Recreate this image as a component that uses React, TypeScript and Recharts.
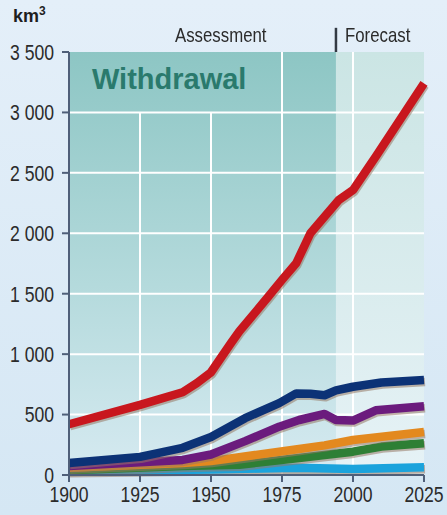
import React from "react";
import {
  LineChart,
  Line,
  XAxis,
  YAxis,
  ReferenceArea,
  ReferenceLine,
} from "recharts";

// ticks
const YEAR_TICKS = [1900, 1925, 1950, 1975, 2000, 2025];
const VALUE_TICKS = [0, 500, 1000, 1500, 2000, 2500, 3000, 3500];
const GRID_VALUES = [500, 1000, 1500, 2000, 2500, 3000];
const SHORT_GRID_YEARS = [1925, 1950]; // stop under the title box
const FULL_GRID_YEARS = [1975, 2000];
const FORECAST_START = 1994;

// withdrawal, km3
const red = [
  { year: 1900, km3: 420 },
  { year: 1925, km3: 580 },
  { year: 1940, km3: 685 },
  { year: 1945, km3: 760 },
  { year: 1950, km3: 850 },
  { year: 1957, km3: 1090 },
  { year: 1960, km3: 1190 },
  { year: 1970, km3: 1470 },
  { year: 1975, km3: 1614 },
  { year: 1980, km3: 1752 },
  { year: 1985, km3: 2000 },
  { year: 1988, km3: 2083 },
  { year: 1995, km3: 2276 },
  { year: 2000, km3: 2358 },
  { year: 2008, km3: 2635 },
  { year: 2025, km3: 3240 },
];

const navy = [
  { year: 1900, km3: 100 },
  { year: 1925, km3: 150 },
  { year: 1940, km3: 225 },
  { year: 1950, km3: 315 },
  { year: 1962, km3: 470 },
  { year: 1974, km3: 595 },
  { year: 1980, km3: 675 },
  { year: 1985, km3: 672 },
  { year: 1990, km3: 660 },
  { year: 1994, km3: 700 },
  { year: 2000, km3: 730 },
  { year: 2010, km3: 765 },
  { year: 2025, km3: 786 },
];

const purple = [
  { year: 1900, km3: 75 },
  { year: 1940, km3: 125 },
  { year: 1950, km3: 170 },
  { year: 1962, km3: 280 },
  { year: 1974, km3: 400 },
  { year: 1981, km3: 455 },
  { year: 1990, km3: 505 },
  { year: 1994, km3: 455 },
  { year: 2000, km3: 450 },
  { year: 2008, km3: 535 },
  { year: 2025, km3: 568 },
];

const orange = [
  { year: 1900, km3: 60 },
  { year: 1940, km3: 100 },
  { year: 1950, km3: 115 },
  { year: 1981, km3: 215 },
  { year: 1990, km3: 245 },
  { year: 2000, km3: 290 },
  { year: 2025, km3: 356 },
];

const green = [
  { year: 1900, km3: 40 },
  { year: 1940, km3: 75 },
  { year: 1960, km3: 85 },
  { year: 1981, km3: 140 },
  { year: 1990, km3: 165 },
  { year: 2000, km3: 193 },
  { year: 2010, km3: 235 },
  { year: 2025, km3: 262 },
];

const lightBlue = [
  { year: 1900, km3: 30 },
  { year: 1950, km3: 45 },
  { year: 1980, km3: 60 },
  { year: 2000, km3: 50 },
  { year: 2025, km3: 64 },
];

const SERIES = [
  { name: "lightBlue", data: lightBlue, color: "#1ba3dc" },
  { name: "green", data: green, color: "#2e7f35" },
  { name: "orange", data: orange, color: "#e3891f" },
  { name: "purple", data: purple, color: "#6b1b7d" },
  { name: "navy", data: navy, color: "#0c3276" },
  { name: "red", data: red, color: "#c8171e" },
];

const FONT = "'Liberation Sans', Arial, sans-serif";
const NARROW = 0.8; // fake a condensed face
const AXIS_COLOR = "#4f5f79";

const fmt = (v: number) =>
  v >= 1000 ? `${Math.floor(v / 1000)} ${String(v % 1000).padStart(3, "0")}` : String(v);

const YTick = (props: any) => {
  const { x, y, payload } = props;
  return (
    <text
      transform={`translate(${x},${y}) scale(${NARROW},1)`}
      textAnchor="end"
      dy="0.355em"
      fill="#2b2b2b"
      fontSize={22}
      fontFamily={FONT}
    >
      {fmt(payload.value)}
    </text>
  );
};

const XTick = (props: any) => {
  const { x, y, payload } = props;
  return (
    <text
      transform={`translate(${x},${y}) scale(${NARROW},1)`}
      textAnchor="middle"
      dy="0.71em"
      fill="#2b2b2b"
      fontSize={22}
      fontFamily={FONT}
    >
      {payload.value}
    </text>
  );
};

const narrowText: React.CSSProperties = {
  position: "absolute",
  top: 23,
  fontFamily: FONT,
  fontSize: 21,
  color: "#2b2b2b",
  lineHeight: "24px",
  whiteSpace: "nowrap",
  transform: `scaleX(${NARROW})`,
  transformOrigin: "left top",
};

export default function App() {
  return (
    <div
      style={{
        position: "absolute",
        left: 0,
        top: 0,
        width: 447,
        height: 515,
        overflow: "hidden",
        background: "linear-gradient(180deg, #e4eff9 0%, #d5e7f4 100%)",
      }}
    >
      <LineChart
        width={447}
        height={515}
        margin={{ top: 52, right: 23, bottom: 0, left: 0 }}
      >
        <defs>
          <linearGradient id="gradAssess" x1="0" y1="0" x2="0" y2="1">
            <stop offset="0%" stopColor="#8dc6c4" />
            <stop offset="55%" stopColor="#b4dadc" />
            <stop offset="100%" stopColor="#d6eaf1" />
          </linearGradient>
          <linearGradient id="gradForecast" x1="0" y1="0" x2="0" y2="1">
            <stop offset="0%" stopColor="#cbe5e4" />
            <stop offset="100%" stopColor="#e6f2f6" />
          </linearGradient>
        </defs>
        <XAxis
          type="number"
          dataKey="year"
          domain={[1900, 2025]}
          ticks={YEAR_TICKS}
          allowDuplicatedCategory={false}
          height={40}
          tickSize={7}
          tickMargin={4}
          stroke={AXIS_COLOR}
          strokeWidth={2}
          tick={<XTick />}
        />
        <YAxis
          type="number"
          domain={[0, 3500]}
          ticks={VALUE_TICKS}
          width={69}
          tickSize={7}
          tickMargin={8}
          stroke={AXIS_COLOR}
          strokeWidth={2}
          tick={<YTick />}
        />
        <ReferenceArea
          x1={1900}
          x2={FORECAST_START}
          y1={0}
          y2={3500}
          fill="url(#gradAssess)"
          fillOpacity={1}
          stroke="none"
        />
        <ReferenceArea
          x1={FORECAST_START}
          x2={2025}
          y1={0}
          y2={3500}
          fill="url(#gradForecast)"
          fillOpacity={1}
          stroke="none"
        />
        {GRID_VALUES.map((v) => (
          <ReferenceLine key={`h${v}`} y={v} stroke="#ffffff" strokeWidth={2} />
        ))}
        {SHORT_GRID_YEARS.map((yr) => (
          <ReferenceLine
            key={`v${yr}`}
            segment={[
              { x: yr, y: 0 },
              { x: yr, y: 3000 },
            ]}
            stroke="#ffffff"
            strokeWidth={2}
          />
        ))}
        {FULL_GRID_YEARS.map((yr) => (
          <ReferenceLine
            key={`v${yr}`}
            segment={[
              { x: yr, y: 0 },
              { x: yr, y: 3500 },
            ]}
            stroke="#ffffff"
            strokeWidth={2}
          />
        ))}
        <ReferenceLine
          segment={[
            { x: FORECAST_START, y: 3500 },
            { x: FORECAST_START, y: 3700 },
          ]}
          ifOverflow="visible"
          stroke="#333a44"
          strokeWidth={2.5}
        />
        {SERIES.map((s) => (
          <Line
            key={s.name}
            data={s.data}
            dataKey="km3"
            type="linear"
            stroke={s.color}
            strokeWidth={8.5}
            strokeLinejoin="round"
            dot={false}
            activeDot={false}
            isAnimationActive={false}
            style={{ filter: "drop-shadow(1px 2px 0.6px rgba(150,120,100,0.55))" }}
          />
        ))}
      </LineChart>

      <div
        style={{
          position: "absolute",
          left: 13,
          top: 6,
          fontFamily: FONT,
          fontWeight: "bold",
          fontSize: 18,
          color: "#1e1e1e",
        }}
      >
        km<sup style={{ fontSize: 12, verticalAlign: "top", position: "relative", top: -2 }}>3</sup>
      </div>
      <div style={{ ...narrowText, left: 175 }}>Assessment</div>
      <div style={{ ...narrowText, left: 345 }}>Forecast</div>
      <div
        style={{
          position: "absolute",
          left: 92,
          top: 62,
          fontFamily: FONT,
          fontWeight: "bold",
          fontSize: 29,
          color: "#2a7a6d",
          lineHeight: "34px",
        }}
      >
        Withdrawal
      </div>
    </div>
  );
}
